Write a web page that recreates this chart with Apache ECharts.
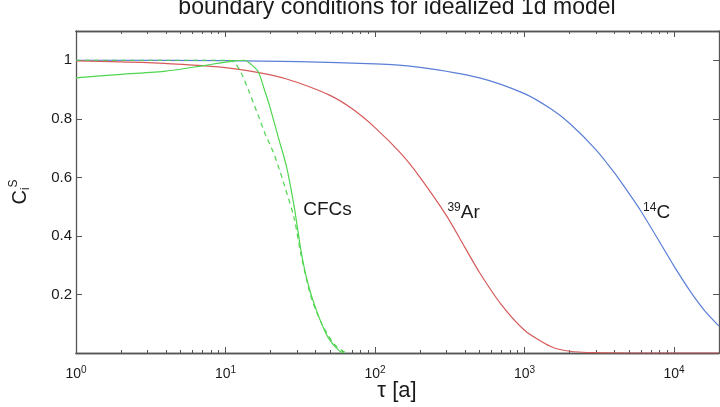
<!DOCTYPE html>
<html>
<head>
<meta charset="utf-8">
<script src="https://cdn.jsdelivr.net/npm/echarts@6/dist/echarts.min.js"></script>
<style>
html, body { margin: 0; padding: 0; background: #fff; }
#chart { width: 720px; height: 407px; }
</style>
</head>
<body>
<div id="chart"></div>
<script>
const FONT = '"Liberation Sans", Arial, Helvetica, sans-serif';
const AXIS_COLOR = '#555';
const TEXT_COLOR = '#1a1a1a';

// tau [a] and boundary values
const tauC14 = [1, 10, 100, 200, 500, 1000, 1500, 2000, 3000, 4000, 5000, 6000, 8000, 10000, 13000, 16000, 20000];
const valC14 = [1.0, 0.999, 0.988, 0.976, 0.94, 0.886, 0.834, 0.785, 0.695, 0.615, 0.545, 0.485, 0.38, 0.297, 0.207, 0.145, 0.092];

const tauAr39 = [1, 3, 10, 20, 30, 50, 70, 100, 150, 200, 300, 400, 500, 700, 1000, 1500, 2000, 3000, 5000, 20000];
const valAr39 = [0.998, 0.992, 0.975, 0.95, 0.925, 0.88, 0.835, 0.77, 0.68, 0.6, 0.47, 0.36, 0.275, 0.165, 0.078, 0.022, 0.006, 0.001, 0.0, 0.0];

const tauCfc = [1, 2, 4, 7, 9, 11.5, 13.4, 14.9, 16.6, 18.2, 19.7, 22.6, 25.5, 28.8, 32.1, 35.3, 40.3, 48.3, 57.5, 62];
const valCfc = [0.94, 0.952, 0.963, 0.981, 0.99, 0.998, 1.0, 0.985, 0.96, 0.9, 0.845, 0.735, 0.64, 0.5, 0.345, 0.245, 0.15, 0.055, 0.008, 0.0];

const tauCfcDash = [1, 5, 10, 11, 11.8, 12.8, 14.2, 16.6, 18.2, 20.9, 23, 24.7, 28.8, 32, 37.4, 43.6, 53.3, 64];
const valCfcDash = [1.0, 1.0, 1.0, 0.998, 0.985, 0.955, 0.9, 0.81, 0.755, 0.685, 0.625, 0.575, 0.46, 0.335, 0.19, 0.105, 0.03, 0.0];

// ticks
const xMajorTicks = [1, 10, 100, 1000, 10000];
const xMinorTicks = [];
xMajorTicks.forEach(d => {
    for (let k = 2; k <= 9; k++) {
        if (d * k <= 20000) xMinorTicks.push(d * k);
    }
});
const yTicks = [0.2, 0.4, 0.6, 0.8, 1];

function xAxisSide(position, ticks, len, withLabels) {
    return {
        type: 'log',
        logBase: 10,
        min: 1,
        max: 20000,
        position: position,
        axisLine: { show: true, onZero: false, lineStyle: { color: AXIS_COLOR, width: 1.3 } },
        axisTick: { show: true, inside: true, length: len, customValues: ticks, lineStyle: { color: AXIS_COLOR, width: 1 } },
        axisLabel: withLabels ? {
            customValues: xMajorTicks,
            margin: 12,
            color: TEXT_COLOR,
            fontFamily: FONT,
            formatter: v => '{b|10}{s|' + Math.round(Math.log10(v)) + '}',
            rich: {
                b: { fontSize: 14, fontFamily: FONT, color: TEXT_COLOR, lineHeight: 18 },
                s: { fontSize: 10, fontFamily: FONT, color: TEXT_COLOR, verticalAlign: 'top', lineHeight: 10 }
            }
        } : { show: false },
        splitLine: { show: false }
    };
}

function yAxisSide(position, withLabels) {
    return {
        type: 'value',
        min: 0,
        max: 1.1,
        position: position,
        axisLine: { show: true, onZero: false, lineStyle: { color: AXIS_COLOR, width: 1.3 } },
        axisTick: { show: true, inside: true, length: 6, customValues: yTicks, lineStyle: { color: AXIS_COLOR, width: 1 } },
        axisLabel: withLabels ? {
            customValues: yTicks,
            margin: 4,
            fontSize: 15,
            fontFamily: FONT,
            color: TEXT_COLOR
        } : { show: false },
        splitLine: { show: false }
    };
}

function line(name, xs, ys, color, dashed, z) {
    return {
        type: 'line',
        name: name,
        data: xs.map((x, i) => [x, ys[i]]),
        showSymbol: false,
        symbol: 'none',
        smooth: 0.25,
        silent: true,
        z: z,
        lineStyle: { color: color, width: 1.2, type: dashed ? [5, 4] : 'solid' }
    };
}

function curveLabel(coord, text) {
    return {
        symbol: 'circle',
        symbolSize: 0,
        silent: true,
        data: [{ coord: coord }],
        label: {
            show: true,
            position: 'right',
            distance: 0,
            formatter: text,
            rich: {
                sup: { fontSize: 12, fontFamily: FONT, color: TEXT_COLOR, verticalAlign: 'top', lineHeight: 12 },
                n: { fontSize: 19, fontFamily: FONT, color: TEXT_COLOR, lineHeight: 22 }
            }
        }
    };
}

const yLeft = yAxisSide('left', true);
yLeft.name = '{c|C}{sub|i}{sup|S}';
yLeft.nameLocation = 'middle';
yLeft.nameRotate = 90;
yLeft.nameGap = 44;
yLeft.nameTextStyle = {
    rich: {
        c: { fontSize: 20, fontFamily: FONT, color: TEXT_COLOR, lineHeight: 24 },
        sub: { fontSize: 12, fontFamily: FONT, color: TEXT_COLOR, verticalAlign: 'bottom', lineHeight: 12 },
        sup: { fontSize: 12, fontFamily: FONT, color: TEXT_COLOR, verticalAlign: 'top', lineHeight: 12 }
    }
};

const c14 = line('14C', tauC14, valC14, '#5b7fd6', false, 2);
c14.markPoint = curveLabel([6215, 0.48], '{sup|14}{n|C}');
const ar39 = line('39Ar', tauAr39, valAr39, '#d65a5a', false, 3);
ar39.markPoint = curveLabel([305, 0.48], '{sup|39}{n|Ar}');
const cfc = line('CFCs', tauCfc, valCfc, '#4fd64f', false, 4);
cfc.markPoint = curveLabel([33.1, 0.49], '{n|CFCs}');
const cfcDash = line('CFCs dashed', tauCfcDash, valCfcDash, '#4fd64f', true, 4);

const chart = echarts.init(document.getElementById('chart'));
chart.setOption({
    animation: false,
    backgroundColor: '#fff',
    grid: { left: 74, right: 1, top: 31, bottom: 54 },
    graphic: [{
        type: 'text',
        x: 397,
        y: -4,
        silent: true,
        style: {
            text: 'boundary conditions for idealized 1d model',
            font: '23px ' + FONT,
            fill: TEXT_COLOR,
            textAlign: 'center',
            textVerticalAlign: 'top'
        }
    }, {
        type: 'text',
        x: 397,
        y: 380,
        silent: true,
        style: {
            text: 'τ [a]',
            font: '22px ' + FONT,
            fill: TEXT_COLOR,
            textAlign: 'center',
            textVerticalAlign: 'top'
        }
    }],
    xAxis: [
        xAxisSide('bottom', xMajorTicks, 6, true),
        xAxisSide('bottom', xMinorTicks, 3, false),
        xAxisSide('top', xMajorTicks, 6, false),
        xAxisSide('top', xMinorTicks, 3, false)
    ],
    yAxis: [
        yLeft,
        yAxisSide('right', false)
    ],
    series: [c14, ar39, cfc, cfcDash]
});
</script>
</body>
</html>
